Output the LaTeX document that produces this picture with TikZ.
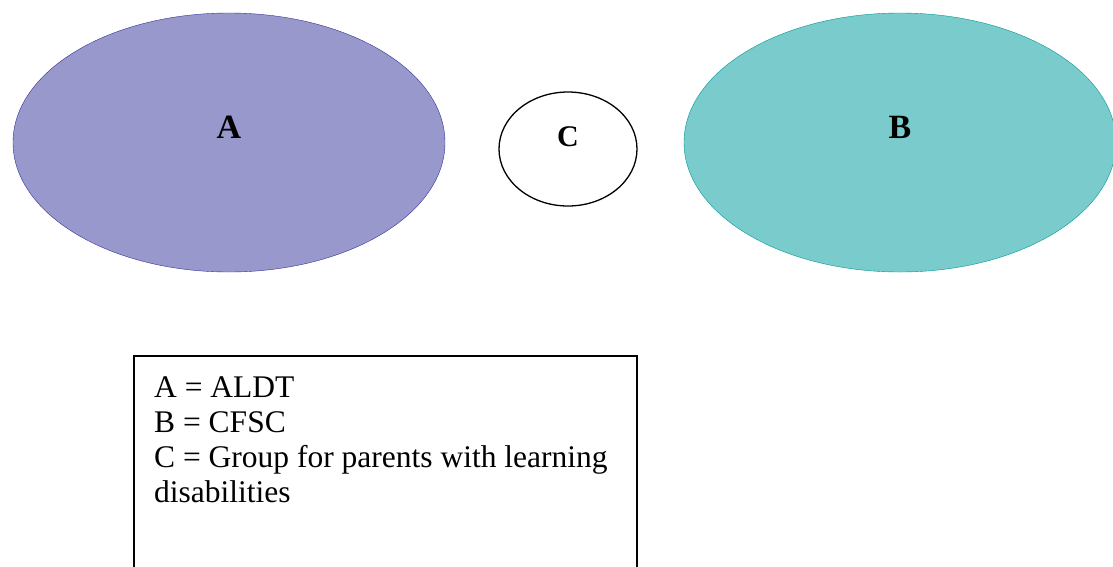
\documentclass[tikz,border=0pt]{standalone}
\usepackage{fontspec}
\setmainfont{Liberation Serif}
\usetikzlibrary{shapes.geometric}
\definecolor{setAfill}{RGB}{152,152,204}
\definecolor{setAline}{RGB}{50,50,150}
\definecolor{setBfill}{RGB}{122,204,204}
\definecolor{setBline}{RGB}{0,150,150}
\begin{document}
\begin{tikzpicture}[x=1pt,y=-1pt,
        bubble/.style={ellipse,draw,inner sep=0pt,minimum width=432pt,minimum height=259pt},
        letter/.style={font=\fontsize{34}{40}\selectfont\bfseries,inner sep=0pt}]
            \useasboundingbox (0,0) rectangle (1113,566);
            \node [bubble,fill=setAfill,draw=setAline] (a) at (229,142.5) {};
            \node [bubble,fill=setBfill,draw=setBline] (b) at (900,142.5) {};
            \node [ellipse,draw,line width=1.3pt,inner sep=0pt,minimum width=138pt,minimum height=114pt] (c) at (568,149) {};
            \node [letter] (la) at ([yshift=15pt]a.center) {A};
            \node [letter] (lb) at ([yshift=15pt]b.center) {B};
            \node [letter,font=\fontsize{30}{36}\selectfont\bfseries] (lc) at ([yshift=12pt]c.center) {C};
            \draw [line width=1.4pt] (134,600) |- (637,356) -- (637,600);
            \node [anchor=north west,align=left,inner sep=0pt,font=\fontsize{31.5}{35}\selectfont] (key) at (154,376)
                {A = ALDT\\ B = CFSC\\ C = Group for parents with learning\\ disabilities};
        \end{tikzpicture}
\end{document}
